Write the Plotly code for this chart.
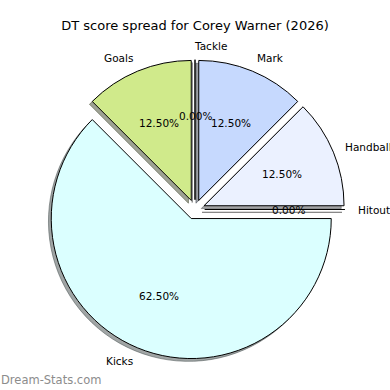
import math
import plotly.graph_objects as go

# ---- data ----
labels = ["Hitout", "Handball", "Mark", "Tackle", "Goals", "Kicks"]
counts = [0, 1, 1, 0, 1, 5]
colors = ["#f0f0f0", "#ebf1ff", "#c6d9fe", "#d9d9d9", "#d0ea8b", "#dbffff"]
title = "DT score spread for Corey Warner (2026)"

# ---- layout constants (pixels) ----
W = H = 390
CX, CY = 195.0, 209.5      # pie centre
R = 140.0                  # radius
PULL = 0.07                # explode fraction
SH = 2.8                   # shadow offset


def px2paper(x, y):
    return x / W, 1 - y / H


def domain(cx, cy):
    s = 2 * R * (1 + PULL)
    return dict(x=[(cx - s / 2) / W, (cx + s / 2) / W],
                y=[1 - (cy + s / 2) / H, 1 - (cy - s / 2) / H])


def shadow(c):
    c = c.lstrip("#")
    r, g, b = (int(c[i:i + 2], 16) for i in (0, 2, 4))
    return "rgba(%d,%d,%d,0.5)" % (0.3 * r, 0.3 * g, 0.3 * b)


shadow_cols = [shadow(c) for c in colors]

fig = go.Figure()
# shadow pie
fig.add_trace(go.Pie(
    labels=labels, values=counts, sort=False, direction="counterclockwise",
    rotation=90, pull=[PULL] * len(counts), textinfo="none", hoverinfo="skip",
    marker=dict(colors=shadow_cols, line=dict(color=shadow_cols, width=1)),
    domain=domain(CX - SH, CY + SH), showlegend=False))
# main pie
fig.add_trace(go.Pie(
    labels=labels, values=counts, sort=False, direction="counterclockwise",
    rotation=90, pull=[PULL] * len(counts), textinfo="none",
    marker=dict(colors=colors, line=dict(color="black", width=1)),
    domain=domain(CX, CY), showlegend=False))

# labels and percentages, placed from the data like matplotlib's pie
total = sum(counts)
ann = []
cum = 0
d = PULL * R
FS = 10.5
for lab, v in zip(labels, counts):
    a0 = cum / total * 360
    cum += v
    a1 = cum / total * 360
    mid = math.radians((a0 + a1) / 2)
    ux, uy = math.cos(mid), -math.sin(mid)
    sx, sy = CX + d * ux, CY + d * uy
    # label at 1.1 R
    lx, ly = sx + 1.1 * R * ux, sy + 1.1 * R * uy
    xp, yp = px2paper(lx, ly)
    right = ux > 0
    ann.append(dict(x=xp, y=yp, xref="paper", yref="paper", text=lab,
                    showarrow=False, xanchor="left" if right else "right",
                    yanchor="middle", borderpad=0,
                    xshift=-2 if right else 2,
                    font=dict(family="DejaVu Sans", size=FS, color="black")))
    # percentage at 0.6 R
    pxx, pyy = sx + 0.6 * R * ux, sy + 0.6 * R * uy
    xp, yp = px2paper(pxx, pyy)
    ann.append(dict(x=xp, y=yp, xref="paper", yref="paper",
                    text="%.2f%%" % (v / total * 100), showarrow=False,
                    xanchor="center", yanchor="middle",
                    font=dict(family="DejaVu Sans", size=FS, color="black")))

ann.append(dict(x=0, y=px2paper(0, 380)[1], xref="paper", yref="paper",
                text="Dream-Stats.com", showarrow=False, xanchor="left",
                yanchor="middle", borderpad=0,
                font=dict(family="DejaVu Sans", size=11.5, color="#8c8c8c")))

fig.update_layout(
    width=W, height=H, margin=dict(l=0, r=0, t=0, b=0),
    paper_bgcolor="white", plot_bgcolor="white",
    title=dict(text=title, x=0.5, xanchor="center",
               y=1 - 25 / H, yanchor="middle",
               font=dict(family="DejaVu Sans", size=13, color="black")),
    annotations=ann,
)

fig.write_html("out.html", config={"displayModeBar": False},
               post_script="document.body.style.margin='0';")
